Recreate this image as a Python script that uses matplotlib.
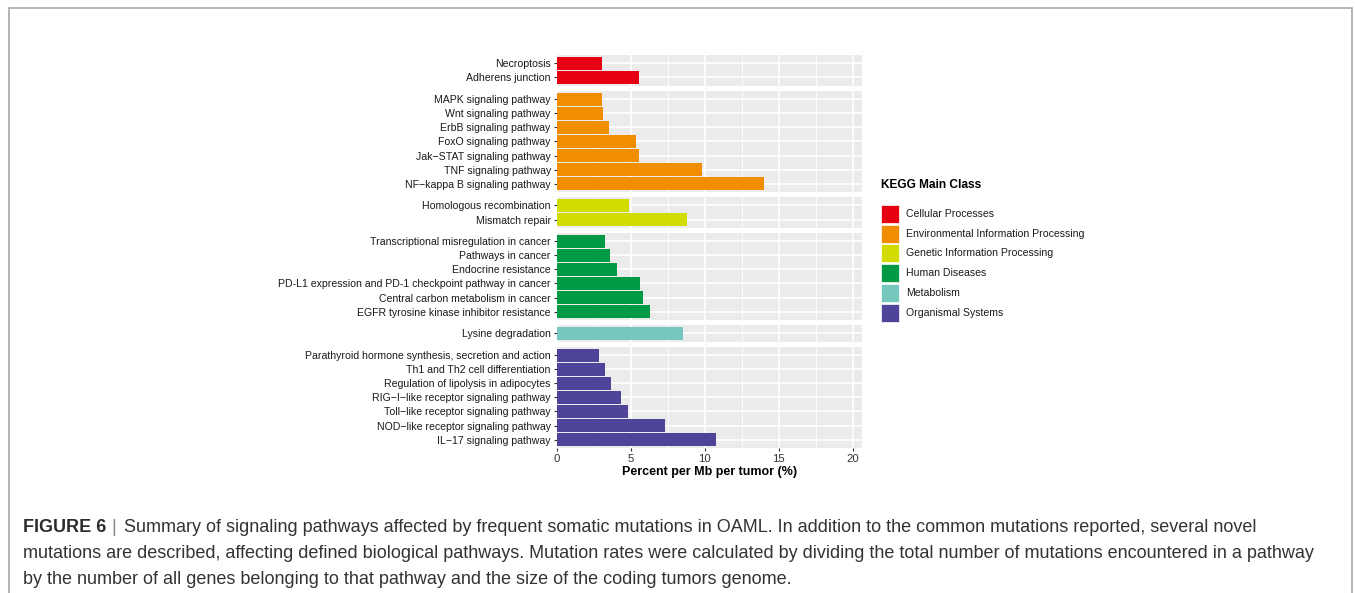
import matplotlib
matplotlib.use("Agg")
import matplotlib.pyplot as plt
from matplotlib.patches import Rectangle

plt.rcParams['font.family'] = ['Liberation Sans', 'DejaVu Sans']

# KEGG main classes and colours
classes = ['Cellular Processes', 'Environmental Information Processing',
           'Genetic Information Processing', 'Human Diseases',
           'Metabolism', 'Organismal Systems']
class_colors = ['#E60012', '#F18D00', '#D2DC00', '#009944', '#76C7BE', '#4E4499']

# pathways (top to bottom), their class and mutation rate
pathways = [
    'Necroptosis', 'Adherens junction',
    'MAPK signaling pathway', 'Wnt signaling pathway', 'ErbB signaling pathway',
    'FoxO signaling pathway', 'Jak\u2212STAT signaling pathway', 'TNF signaling pathway',
    'NF\u2212kappa B signaling pathway',
    'Homologous recombination', 'Mismatch repair',
    'Transcriptional misregulation in cancer', 'Pathways in cancer',
    'Endocrine resistance', 'PD-L1 expression and PD-1 checkpoint pathway in cancer',
    'Central carbon metabolism in cancer', 'EGFR tyrosine kinase inhibitor resistance',
    'Lysine degradation',
    'Parathyroid hormone synthesis, secretion and action',
    'Th1 and Th2 cell differentiation', 'Regulation of lipolysis in adipocytes',
    'RIG\u2212I\u2212like receptor signaling pathway',
    'Toll\u2212like receptor signaling pathway',
    'NOD\u2212like receptor signaling pathway', 'IL\u221217 signaling pathway',
]
pathway_class = [0, 0,
                 1, 1, 1, 1, 1, 1, 1,
                 2, 2,
                 3, 3, 3, 3, 3, 3,
                 4,
                 5, 5, 5, 5, 5, 5, 5]
rates = [3.07, 5.55,
         3.05, 3.12, 3.52, 5.31, 5.55, 9.82, 14.02,
         4.90, 8.78,
         3.25, 3.59, 4.09, 5.62, 5.80, 6.32,
         8.49,
         2.84, 3.28, 3.66, 4.31, 4.81, 7.31, 10.77]

caption_lines = [
    ' Summary of signaling pathways affected by frequent somatic mutations in OAML. '
    'In addition to the common mutations reported, several novel',
    'mutations are described, affecting defined biological pathways. Mutation rates were '
    'calculated by dividing the total number of mutations encountered in a pathway',
    'by the number of all genes belonging to that pathway and the size of the coding tumors genome.',
]

W, H = 1355, 593
fig = plt.figure(figsize=(W / 100, H / 100), dpi=100)

# border frame
fig.patches.append(Rectangle((9 / W, -0.1), (1352 - 9) / W, 1.1 - 8 / H,
                             transform=fig.transFigure, fill=False,
                             edgecolor='#a8a8a8', linewidth=1.2))

# panel layout (ggplot facet_grid, space = "free_y")
left_px, right_px = 557, 862
top_px, bottom_px = 55, 448
gap_px = 5.0
exp = 0.6
counts = [pathway_class.count(k) for k in range(len(classes))]
units = [n - 1 + 2 * exp for n in counts]
unit_px = (bottom_px - top_px - gap_px * (len(classes) - 1)) / sum(units)

bg = '#EBEBEB'
y0 = top_px
for k, cls in enumerate(classes):
    h = units[k] * unit_px
    ax = fig.add_axes([left_px / W, 1 - (y0 + h) / H, (right_px - left_px) / W, h / H])
    y0 += h + gap_px
    idx = [i for i, c in enumerate(pathway_class) if c == k]
    names = [pathways[i] for i in idx]
    vals = [rates[i] for i in idx]
    pos = list(range(len(idx)))
    ax.set_facecolor(bg)
    ax.barh(pos, vals, height=0.9, color=class_colors[k], zorder=3)
    ax.set_xlim(0, 20.63)
    ax.set_ylim(len(idx) - 1 + exp, -exp)
    ax.set_yticks(pos)
    ax.set_yticklabels(names, fontsize=7.6, color='#1a1a1a')
    ax.set_xticks([0, 5, 10, 15, 20])
    ax.set_xticks([2.5, 7.5, 12.5, 17.5], minor=True)
    ax.grid(True, which='major', color='white', linewidth=1.2, zorder=0)
    ax.grid(True, which='minor', axis='x', color='white', linewidth=0.6, zorder=0)
    ax.tick_params(axis='y', length=2.5, width=0.8, color='#333333', pad=2)
    ax.tick_params(axis='x', which='minor', length=0)
    for s in ax.spines.values():
        s.set_visible(False)
    if k < len(classes) - 1:
        ax.tick_params(axis='x', which='major', length=0, labelbottom=False)
    else:
        ax.tick_params(axis='x', which='major', length=2.5, width=0.8,
                       color='#333333', labelsize=8.2, labelcolor='#333333', pad=1.5)
        ax.set_xlabel('Percent per Mb per tumor (%)', fontsize=9, fontweight='bold',
                      labelpad=1.5)

# legend
fig.text(881 / W, 1 - 185 / H, 'KEGG Main Class', fontsize=8.6, fontweight='bold',
         va='center', ha='left')
key_px = 18
for k, cls in enumerate(classes):
    ky = 205 + k * 19.7
    fig.patches.append(Rectangle((881 / W, 1 - (ky + key_px) / H), key_px / W, key_px / H,
                                 transform=fig.transFigure, facecolor=class_colors[k],
                                 edgecolor='white', linewidth=0.5))
    fig.text(906 / W, 1 - (ky + key_px / 2) / H, cls, fontsize=7.6, va='center',
             ha='left', color='#1a1a1a')

# caption
cap_color = '#333333'
cap_size = 13
line_y = [528, 554, 580]
t = fig.text(23 / W, 1 - line_y[0] / H, 'FIGURE 6', fontsize=cap_size, fontweight='bold',
             color='#2b2b2b', va='center', ha='left')
fig.canvas.draw()
bb = t.get_window_extent()
t2 = fig.text(bb.x1 / W + 5 / W, 1 - line_y[0] / H, '|', fontsize=cap_size, color='#888888',
              va='center', ha='left')
fig.canvas.draw()
bb2 = t2.get_window_extent()
fig.text(bb2.x1 / W + 3 / W, 1 - line_y[0] / H, caption_lines[0], fontsize=cap_size,
         color=cap_color, va='center', ha='left')
fig.text(23 / W, 1 - line_y[1] / H, caption_lines[1], fontsize=cap_size, color=cap_color,
         va='center', ha='left')
fig.text(23 / W, 1 - line_y[2] / H, caption_lines[2], fontsize=cap_size, color=cap_color,
         va='center', ha='left')

fig.savefig('out.png', dpi=100)
